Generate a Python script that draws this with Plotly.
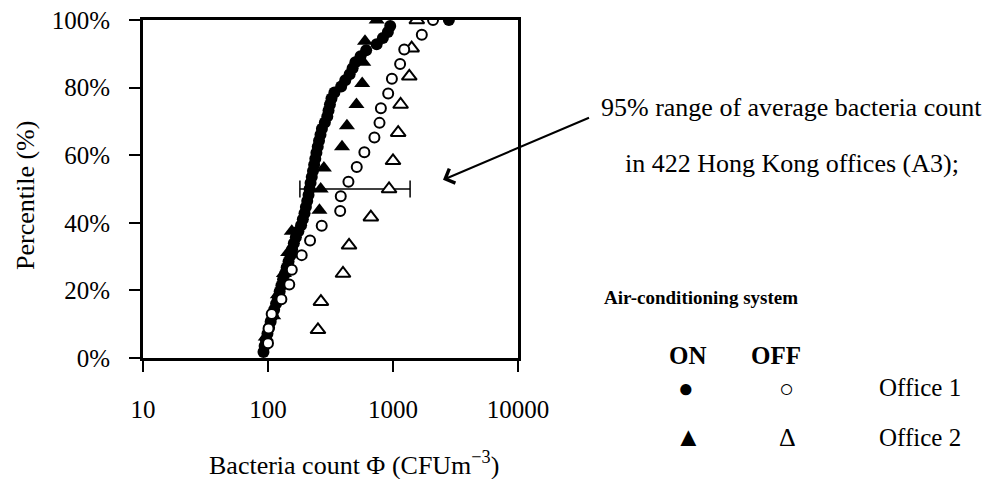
import numpy as np
import plotly.graph_objects as go

# ---- data (bacteria count, CFU m^-3), sorted ascending; percentile = rank / n ----
office1_on = [92, 94, 96, 99, 102, 105, 109, 112, 116, 120, 124, 128, 132, 137, 141,
              146, 151, 156, 161, 167, 175, 184, 190, 196, 201, 206, 211, 215, 219, 224,
              229, 234, 239, 244, 250, 256, 263, 270, 285, 298, 305, 313, 322, 340, 385,
              415, 450, 475, 500, 550, 610, 740, 830, 910, 950, 2800]
office1_off = [100, 101, 107, 128, 148, 155, 186, 217, 269, 378, 382, 440, 513, 590, 710,
               780, 800, 915, 980, 1140, 1230, 1700, 2090]
office2_on = [96, 110, 120, 134, 145, 155, 258, 264, 280, 391, 428, 510, 567, 578, 597, 740]
office2_off = [251, 265, 398, 445, 665, 930, 1000, 1100, 1150, 1350, 1410, 1550]

range95_x = [180, 1370]
range95_y = [0.5, 0.5]

x_tickvals = [10, 100, 1000, 10000]
x_ticktext = ["10", "100", "1000", "10000"]
y_tickvals = [0, 0.2, 0.4, 0.6, 0.8, 1.0]
y_ticktext = ["0%", "20%", "40%", "60%", "80%", "100%"]

FONT = "Liberation Serif"
W, H = 993, 479
L, R, T, B = 143, 518, 20, 358  # plot area in pixels


def pct(vals):
    n = len(vals)
    return [(i + 1) / n for i in range(n)]


def px(x):
    return (x - L) / (R - L)


def py(y):
    return (B - y) / (B - T)


fig = go.Figure()

fig.add_trace(go.Scatter(x=range95_x, y=range95_y, mode="lines+markers",
                         line=dict(color="black", width=1.5),
                         marker=dict(symbol="line-ns-open", size=12,
                                     line=dict(color="black", width=1.5)),
                         showlegend=False, hoverinfo="skip"))

fig.add_trace(go.Scatter(x=office2_off, y=pct(office2_off), mode="markers",
                         marker=dict(symbol="triangle-up", size=13, color="white",
                                     line=dict(color="black", width=2)),
                         name="Office 2 OFF", showlegend=False))
fig.add_trace(go.Scatter(x=office2_on, y=pct(office2_on), mode="markers",
                         marker=dict(symbol="triangle-up", size=14, color="black",
                                     line=dict(color="black", width=0)),
                         name="Office 2 ON", showlegend=False))
fig.add_trace(go.Scatter(x=office1_on, y=pct(office1_on), mode="markers",
                         marker=dict(symbol="circle", size=12, color="black",
                                     line=dict(color="black", width=0)),
                         name="Office 1 ON", showlegend=False))
fig.add_trace(go.Scatter(x=office1_off, y=pct(office1_off), mode="markers",
                         marker=dict(symbol="circle", size=10, color="white",
                                     line=dict(color="black", width=2)),
                         name="Office 1 OFF", showlegend=False))

annotations = []


def txt(text, x, y, size=25, bold=False, angle=0):
    if bold:
        text = "<b>" + text + "</b>"
    annotations.append(dict(text=text, x=px(x), y=py(y), xref="paper", yref="paper",
                            xanchor="center", yanchor="middle", showarrow=False,
                            textangle=angle,
                            font=dict(family=FONT, size=size, color="black")))


txt("95% range of average bacteria count", 791, 107, size=26)
txt("in 422 Hong Kong offices (A3);", 792, 164, size=26)
txt("Air-conditioning system", 701, 297, size=19, bold=True)
txt("ON", 688, 355, size=25, bold=True)
txt("OFF", 776, 355, size=25, bold=True)
txt("●", 686, 388, size=26)
txt("○", 786, 388, size=25)
txt("Office 1", 920, 387, size=25)
txt("▲", 688, 437, size=27)
txt("Δ", 787, 437, size=26)
txt("Office 2", 920, 437, size=25)
txt("Bacteria count Φ (CFUm<sup>−3</sup>)", 354, 463, size=26)
txt("Percentile (%)", 25, 196, size=26, angle=-90)

# arrow pointing at the 95% range line
annotations.append(dict(x=np.log10(2512), y=0.527, xref="x", yref="y",
                        ax=148, ay=-63, axref="pixel", ayref="pixel",
                        text=" ", showarrow=True, arrowhead=4, arrowsize=1.5,
                        arrowwidth=2, arrowcolor="black",
                        font=dict(family=FONT, size=4)))

fig.update_layout(
    width=W, height=H,
    margin=dict(l=L, r=W - R, t=T, b=H - B, autoexpand=False),
    paper_bgcolor="white", plot_bgcolor="white",
    font=dict(family=FONT, size=25, color="black"),
    annotations=annotations,
    xaxis=dict(type="log", range=[1, 4], tickvals=x_tickvals, ticktext=x_ticktext,
               showgrid=False, zeroline=False, showline=True, linecolor="black",
               linewidth=3, mirror=True, ticks="outside", ticklen=11, tickwidth=1.5,
               tickcolor="black", ticklabelstandoff=16,
               tickfont=dict(family=FONT, size=25)),
    yaxis=dict(range=[0, 1], tickvals=y_tickvals, ticktext=y_ticktext,
               showgrid=False, zeroline=False, showline=True, linecolor="black",
               linewidth=3, mirror=True, ticks="outside", ticklen=11, tickwidth=1.5,
               tickcolor="black", ticklabelstandoff=14,
               tickfont=dict(family=FONT, size=25)),
)

fig.write_html("out.html")
